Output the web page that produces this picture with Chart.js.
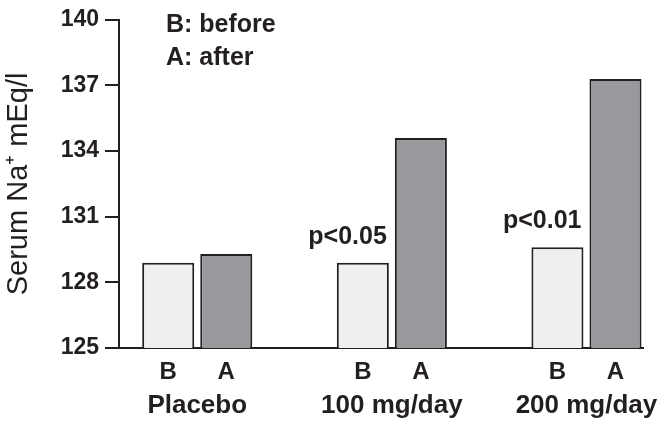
<!DOCTYPE html>
<html><head><meta charset="utf-8">
<script src="https://cdn.jsdelivr.net/npm/chart.js@4.4.0/dist/chart.umd.min.js"></script>
<style>html,body{margin:0;padding:0;background:#fff}#wrap{width:664px;height:431px}</style>
</head><body><div id="wrap"><canvas id="c" width="664" height="431"></canvas></div>
<script>
const categories = ['Placebo', '100 mg/day', '200 mg/day'];
const beforeValues = [128.9, 128.9, 129.6];
const afterValues = [129.3, 134.6, 137.3];
const seriesLabels = ['B', 'A'];
const legendLines = ['B: before', 'A: after'];
const pValues = ['', 'p<0.05', 'p<0.01'];
const yTicks = [125, 128, 131, 134, 137, 140];
const yTitle = 'Serum Na\u207A mEq/l';

const FONT = '"Liberation Sans", Arial, Helvetica, sans-serif';
const INK = '#231f20';

const annot = {
  id: 'annot',
  afterDatasetsDraw(chart) {
    const ctx = chart.ctx;
    const area = chart.chartArea;
    ctx.save();
    ctx.fillStyle = INK;
    ctx.font = 'bold 24px ' + FONT;
    ctx.textAlign = 'center';
    ctx.textBaseline = 'alphabetic';
    chart.data.datasets.forEach((ds, di) => {
      const meta = chart.getDatasetMeta(di);
      meta.data.forEach(el => {
        ctx.fillText(seriesLabels[di], el.x, area.bottom + 31);
      });
    });
    ctx.font = 'bold 25px ' + FONT;
    ctx.textAlign = 'right';
    const metaB = chart.getDatasetMeta(0);
    metaB.data.forEach((el, i) => {
      if (pValues[i]) ctx.fillText(pValues[i], el.x + el.width / 2 - 2, el.y - 19);
    });
    ctx.textAlign = 'left';
    ctx.font = 'bold 25px ' + FONT;
    legendLines.forEach((t, i) => ctx.fillText(t, area.left + 47, 32 + i * 33));
    ctx.restore();
  }
};

new Chart(document.getElementById('c'), {
  type: 'bar',
  data: {
    datasets: [
      {
        label: 'before',
        data: beforeValues.map((v, i) => ({ x: i, y: v })),
        backgroundColor: '#efeff1',
        borderColor: INK,
        borderWidth: 2,
        borderSkipped: false
      },
      {
        label: 'after',
        data: afterValues.map((v, i) => ({ x: i, y: v })),
        backgroundColor: '#98999d',
        borderColor: INK,
        borderWidth: 2,
        borderSkipped: false
      }
    ]
  },
  options: {
    responsive: false,
    animation: false,
    devicePixelRatio: 1,
    categoryPercentage: 0.5964,
    barPercentage: 0.8966,
    layout: { padding: { top: 17, right: 21, left: 0, bottom: 0 } },
    plugins: { legend: { display: false }, tooltip: { enabled: false } },
    scales: {
      x: {
        type: 'linear',
        offset: false,
        min: -0.402,
        max: 2.2905,
        afterBuildTicks(scale) { scale.ticks = categories.map((c, i) => ({ value: i })); },
        afterFit(scale) { scale.height = 83; scale.paddingLeft = 0; scale.paddingRight = 0; },
        grid: { display: false, drawTicks: false },
        border: { display: true, color: INK, width: 2 },
        ticks: {
          autoSkip: false,
          maxRotation: 0,
          padding: 42,
          color: INK,
          font: { family: FONT, size: 26, weight: 'bold' },
          callback: (v) => categories[v]
        }
      },
      y: {
        min: 125,
        max: 140,
        afterBuildTicks(scale) { scale.ticks = yTicks.map(v => ({ value: v })); },
        afterFit(scale) { scale.width = 119; },
        grid: { drawOnChartArea: false, drawTicks: true, tickLength: 14, color: INK, lineWidth: 2 },
        border: { display: true, color: INK, width: 2 },
        ticks: {
          padding: 6,
          color: INK,
          font: { family: FONT, size: 23, weight: 'bold' }
        },
        title: {
          display: true,
          text: yTitle,
          color: INK,
          padding: { top: 2, bottom: 0 },
          font: { family: FONT, size: 29, weight: 'normal' }
        }
      }
    }
  },
  plugins: [annot]
});
</script></body></html>
